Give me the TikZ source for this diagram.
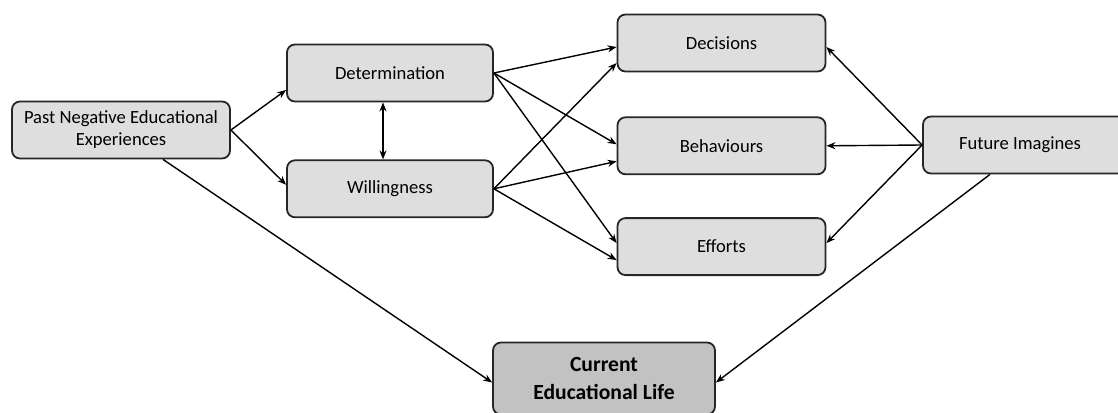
\documentclass[tikz,border=0pt]{standalone}
\usepackage{fontspec}
\setmainfont{Carlito}
\usepackage{tikz}
\usetikzlibrary{arrows.meta, positioning}

\begin{document}
\begin{tikzpicture}[
  x=0.5pt, y=-0.5pt,
  box/.style={draw=black!85, line width=0.9pt, rectangle, rounded corners=4pt, fill=black!13,
    minimum width=104pt, minimum height=28.5pt, font=\fontsize{9.3}{11}\selectfont, align=center},
  mainbox/.style={box, fill=black!24, minimum width=111pt, minimum height=36pt,
    font=\fontsize{10.8}{14}\selectfont\bfseries},
  arr/.style={-{Stealth[length=4.5pt, width=3.5pt]}, line width=0.7pt},
  darr/.style={{Stealth[length=4.5pt, width=3.5pt]}-{Stealth[length=4.5pt, width=3.5pt]}, line width=0.7pt},
  node distance=28.5pt
]
\useasboundingbox (0,0) rectangle (1118,412);

\node[box, minimum width=109pt] (past) at (121,130) {Past Negative Educational\\Experiences};
\node[box, minimum width=103pt] (det) at (390,73) {Determination};
\node[box, minimum width=103pt, below=of det] (will) {Willingness};
\node[box] (dec) at (721.5,43) {Decisions};
\node[box, below=22pt of dec] (beh) {Behaviours};
\node[box, below=21pt of beh] (eff) {Efforts};
\node[box, minimum width=107pt] (fut) at (1030,145) {\hspace*{-10pt}Future Imagines};
\node[mainbox] (cur) at (604,378.5) {Current\\Educational Life};

% past experiences
\draw[arr] (past.east) -- ([yshift=-8.5pt]det.west);
\draw[arr] (past.east) -- ([yshift=2pt]will.west);
\draw[arr] ([xshift=21pt]past.south) -- ([yshift=-2pt]cur.west);
\draw[darr] ([xshift=-3.5pt]det.south) -- ([xshift=-3.5pt]will.north);

% determination and willingness
\draw[arr] (det.east) -- ([yshift=-2pt]dec.west);
\draw[arr] (det.east) -- ([yshift=0.75pt]beh.west);
\draw[arr] (det.east) -- ([yshift=1.75pt]eff.west);
\draw[arr] (will.east) -- ([yshift=-10pt]dec.west);
\draw[arr] (will.east) -- ([yshift=-7.75pt]beh.west);
\draw[arr] (will.east) -- ([yshift=-6.75pt]eff.west);

% future imagines
\draw[arr] (fut.west) -- ([yshift=-2pt]dec.east);
\draw[arr] (fut.west) -- (beh.east);
\draw[arr] (fut.west) -- ([yshift=1.75pt]eff.east);
\draw[arr] ([xshift=-20pt]fut.south) -- ([yshift=-2pt]cur.east);
\end{tikzpicture}
\end{document}
